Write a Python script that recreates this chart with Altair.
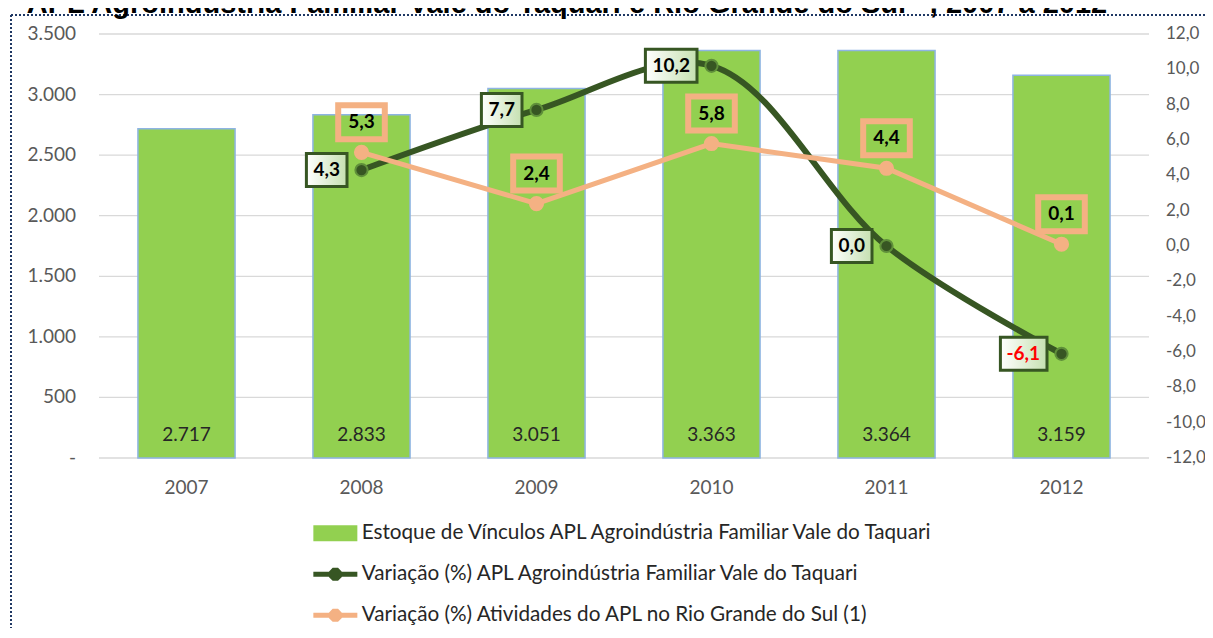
import altair as alt
import pandas as pd

# ---------------- data ----------------
years = ["2007", "2008", "2009", "2010", "2011", "2012"]
estoque = [2717, 2833, 3051, 3363, 3364, 3159]
var_years = ["2008", "2009", "2010", "2011", "2012"]
var_taquari = [4.3, 7.7, 10.2, 0.0, -6.1]
var_rs = [5.3, 2.4, 5.8, 4.4, 0.1]
series_names = [
    "Estoque de Vínculos APL Agroindústria Familiar Vale do Taquari",
    "Variação (%) APL Agroindústria Familiar Vale do Taquari",
    "Variação (%) Atividades do APL no Rio Grande do Sul (1)",
]
title_text = "APL Agroindústria Familiar Vale do Taquari e Rio Grande do Sul⁽¹⁾, 2007 a 2012"
left_ticks = [0, 500, 1000, 1500, 2000, 2500, 3000, 3500]
left_tick_labels = ["-\u2007", "500", "1.000", "1.500", "2.000", "2.500", "3.000", "3.500"]
right_ticks = [-12, -10, -8, -6, -4, -2, 0, 2, 4, 6, 8, 10, 12]
right_tick_labels = ["-12,0", "-10,0", "-8,0", "-6,0", "-4,0", "-2,0", "0,0",
                     "2,0", "4,0", "6,0", "8,0", "10,0", "12,0"]

# ---------------- styles ----------------
FONT = "Lato"
GREEN = "#92D050"
BAR_STROKE = "#8EB4E3"
DARK = "#375623"
ORANGE = "#F4B183"
NAVY = "#1F3864"
AXIS_GRAY = "#595959"
GRID = "#d9d9d9"
W, H = 1050, 424


def fmt_dec(v):
    return f"{v:.1f}".replace(".", ",")


def text_w(s):
    return sum(11.0 if c.isdigit() else (4.6 if c == "," else 6.0) for c in s)


def dark_box(lbl):
    w = text_w(lbl) + 17
    left = -13 - w + 1.5
    right = -14.5
    return f"M{left:.1f},-16.5H{right:.1f}V16.5H{left:.1f}Z"


def orange_box(lbl):
    w = text_w(lbl) + 26
    hw = (w - 6) / 2
    return f"M{-hw:.1f},-47H{hw:.1f}V-13H{-hw:.1f}Z"


bars_df = pd.DataFrame({
    "year": years,
    "estoque": estoque,
    "label": [f"{v:,}".replace(",", ".") for v in estoque],
})

var_df = pd.DataFrame({
    "year": var_years,
    "taquari": var_taquari,
    "rs": var_rs,
})
var_df["lab_t"] = [fmt_dec(v) for v in var_df["taquari"]]
var_df["lab_r"] = [fmt_dec(v) for v in var_df["rs"]]
var_df["path_t"] = [dark_box(s) for s in var_df["lab_t"]]
var_df["path_r"] = [orange_box(s) for s in var_df["lab_r"]]

left_df = pd.DataFrame({"estoque": left_ticks, "lab": left_tick_labels})
right_df = pd.DataFrame({"taquari": right_ticks, "lab": right_tick_labels})
one = pd.DataFrame({"k": [0]})

# ---------------- scales ----------------
x_scale = alt.Scale(domain=years, paddingInner=0.445, paddingOuter=0.2225)
xe = alt.X("year:N", scale=x_scale, axis=None)
yl_scale = alt.Scale(domain=[0, 3500], nice=False, zero=True)
yr_scale = alt.Scale(domain=[-12, 12], nice=False, zero=False)

# ---------------- group A: bars (left scale) ----------------
grid = alt.Chart(left_df).mark_rule(color=GRID, strokeWidth=1.3).encode(
    y=alt.Y("estoque:Q", scale=yl_scale, axis=None), x=alt.value(0), x2=alt.value(W))
left_labels = alt.Chart(left_df).mark_text(align="right", baseline="middle", dx=-23,
                                            font=FONT, fontSize=19, color=AXIS_GRAY).encode(
    y=alt.Y("estoque:Q", scale=yl_scale, axis=None), x=alt.value(0), text="lab:N")
bars = alt.Chart(bars_df).mark_bar(color=GREEN, stroke=BAR_STROKE, strokeWidth=1.5).encode(
    x=xe, y=alt.Y("estoque:Q", scale=yl_scale, axis=None))
bar_labels = alt.Chart(bars_df).mark_text(dy=-23, font=FONT, fontSize=19, color="#262626").encode(
    x=xe, y=alt.YDatum(0, scale=yl_scale, axis=None), text="label:N")
year_labels = alt.Chart(bars_df).mark_text(dy=30, font=FONT, fontSize=19, color=AXIS_GRAY).encode(
    x=xe, y=alt.YDatum(0, scale=yl_scale, axis=None), text="year:N")
group_a = alt.layer(grid, left_labels, bars, bar_labels, year_labels)

# ---------------- group B: lines (right scale) ----------------
base = alt.Chart(var_df)
right_labels = alt.Chart(right_df).mark_text(align="left", baseline="middle", dx=17,
                                              font=FONT, fontSize=17, color=AXIS_GRAY).encode(
    y=alt.Y("taquari:Q", scale=yr_scale, axis=None), x=alt.value(W), text="lab:N")
dark_line = base.mark_line(color=DARK, strokeWidth=6, interpolate="catmull-rom").encode(
    x=xe, y=alt.Y("taquari:Q", scale=yr_scale, axis=None))
orange_line = base.mark_line(color=ORANGE, strokeWidth=5).encode(
    x=xe, y=alt.Y("rs:Q", scale=yr_scale, axis=None))
dark_pts = base.mark_circle(size=150, color=DARK, opacity=1, stroke="#5f8f3a", strokeWidth=2).encode(
    x=xe, y=alt.Y("taquari:Q", scale=yr_scale, axis=None))
orange_pts = base.mark_circle(size=230, color=ORANGE, opacity=1).encode(
    x=xe, y=alt.Y("rs:Q", scale=yr_scale, axis=None))

orange_boxes = []
for p in var_df["path_r"].unique():
    orange_boxes.append(
        base.transform_filter(alt.datum.path_r == p)
        .mark_point(shape=p, filled=False, stroke=ORANGE, strokeWidth=6, opacity=1, size=4)
        .encode(x=xe, y=alt.Y("rs:Q", scale=yr_scale, axis=None))
    )

grad = alt.LinearGradient(gradient="linear",
                          stops=[alt.GradientStop(color="#ffffff", offset=0),
                                 alt.GradientStop(color="#c5e0b0", offset=1)],
                          x1=0, x2=1, y1=0, y2=0)
dark_boxes = []
for p in var_df["path_t"].unique():
    dark_boxes.append(
        base.transform_filter(alt.datum.path_t == p)
        .mark_point(shape=p, filled=True, fill=grad, stroke=DARK, strokeWidth=3, opacity=1, size=4)
        .encode(x=xe, y=alt.Y("taquari:Q", scale=yr_scale, axis=None))
    )

orange_text = base.mark_text(dy=-30, font=FONT, fontSize=19, fontWeight="bold", color="#000000").encode(
    x=xe, y=alt.Y("rs:Q", scale=yr_scale, axis=None), text="lab_r:N")
dark_text = base.mark_text(align="right", dx=-21.5, font=FONT, fontSize=19, fontWeight="bold").encode(
    x=xe, y=alt.Y("taquari:Q", scale=yr_scale, axis=None), text="lab_t:N",
    color=alt.condition("datum.taquari < 0", alt.value("#FF0000"), alt.value("#000000")))
group_b = alt.layer(right_labels, dark_line, orange_line, dark_pts, orange_pts, *orange_boxes,
                    *dark_boxes, orange_text, dark_text)

# ---------------- decorations ----------------
border_top = alt.Chart(one).mark_rule(color=NAVY, strokeDash=[2, 2], strokeWidth=2).encode(
    x=alt.value(-88), x2=alt.value(1120), y=alt.value(-19))
border_left = alt.Chart(one).mark_rule(color=NAVY, strokeDash=[2, 2], strokeWidth=2).encode(
    x=alt.value(-88), y=alt.value(-19), y2=alt.value(620))
title_mark = alt.Chart(one).mark_text(text=title_text, align="center", baseline="alphabetic",
                                      font="Liberation Sans", fontSize=29, fontWeight="bold",
                                      color="#000000").encode(
    x=alt.value(468), y=alt.value(-21))

# ---------------- legend ----------------
s = 8.0
rect_path = f"M{-22/s},{-8/s}H{22/s}V{8/s}H{-22/s}Z"
c = 6.5 / s
k = c * 0.4142
line_path = (f"M{-22/s},{-2.5/s}H{22/s}V{2.5/s}H{-22/s}Z "
             f"M{-c},{-k}L{-k},{-c}L{k},{-c}L{c},{-k}L{c},{k}L{k},{c}L{-k},{c}L{-c},{k}Z")
leg = dict(orient="none", legendX=226, legendY=489, direction="vertical", title=None,
           symbolSize=256, labelOffset=16, labelFont=FONT, labelFontSize=20.7,
           labelColor="#262626", rowPadding=19, symbolStrokeWidth=0, labelLimit=0)
legend_layer = alt.Chart(pd.DataFrame({"series": series_names})).mark_point(
    filled=True, opacity=1).encode(
    color=alt.Color("series:N", scale=alt.Scale(domain=series_names, range=[GREEN, DARK, ORANGE]),
                    legend=alt.Legend(**leg)),
    shape=alt.Shape("series:N", scale=alt.Scale(domain=series_names,
                                                range=[rect_path, line_path, line_path]),
                    legend=alt.Legend(**leg)),
).transform_filter("false")

chart = alt.layer(border_top, border_left, title_mark, group_a, group_b, legend_layer).resolve_scale(
    y="independent"
).properties(
    width=W, height=H,
    autosize=alt.AutoSizeParams(type="none"),
    padding={"left": 91, "top": 26, "right": 56, "bottom": 170},
    background="white",
).configure_view(stroke=None)

chart.save("out.html", embed_options={"renderer": "svg", "actions": False})
